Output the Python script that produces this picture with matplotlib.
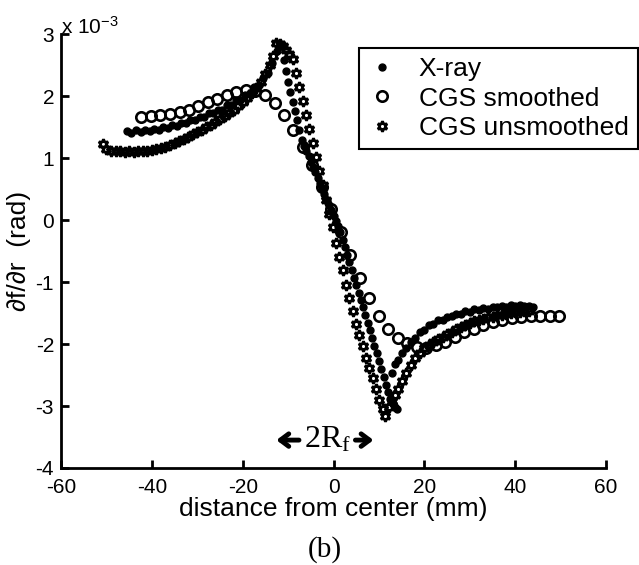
import numpy as np
import matplotlib.pyplot as plt

plt.rcParams['font.family'] = ['Liberation Sans', 'DejaVu Sans']
plt.rcParams['mathtext.default'] = 'regular'
plt.rcParams['axes.unicode_minus'] = False

# values in units of 1e-3 rad, distance in mm
xray_x = [-45.5, -44.5, -43.5, -42.5, -41.5, -40.5, -39.5, -38.5, -37.5, -36.5,
          -35.5, -34.5, -33.5, -32.5, -31.5, -30.5, -29.5, -28.5, -27.5, -26.5,
          -25.5, -24.5, -23.5, -22.5, -21.5, -20.5, -19.5, -18.5, -17.5, -16.5,
          -15.5, -14.5, -13.5, -12.5,
          -11.5, -11.0, -10.5, -10.0, -9.5, -9.0, -8.5, -8.0, -7.5, -7.0,
          -6.5, -6.0, -5.5, -5.0, -4.5, -4.0, -3.5, -3.0, -2.5, -2.0,
          -1.5, -1.0, -0.5, 0.0, 0.5, 1.0, 1.5, 2.0, 2.5, 3.0,
          3.5, 4.0, 4.5, 5.0, 5.5, 6.0, 6.5, 7.0, 7.5, 8.0,
          8.5, 9.0, 9.5, 10.0, 10.5, 11.0, 11.5, 12.0, 12.5, 13.0, 13.5, 14.0,
          12.8, 13.5, 14.2, 15.0, 16.0, 17.0, 18.0, 19.0, 20.0, 21.0,
          22.0, 23.0, 24.0, 25.0, 26.0, 27.0, 28.0, 29.0, 30.0, 31.0,
          32.0, 33.0, 34.0, 35.0, 36.0, 37.0, 38.0, 39.0, 40.0, 41.0,
          42.0, 43.0, 43.8]
xray_y = [1.44, 1.41, 1.45, 1.42, 1.46, 1.43, 1.47, 1.45, 1.50, 1.48,
          1.53, 1.52, 1.57, 1.57, 1.62, 1.61, 1.67, 1.66, 1.72, 1.72,
          1.78, 1.78, 1.85, 1.85, 1.93, 1.94, 2.02, 2.04, 2.14, 2.18,
          2.29, 2.38, 2.53, 2.72,
          2.80, 2.58, 2.40, 2.23, 2.07, 1.91, 1.76, 1.61, 1.46, 1.29,
          1.20, 1.12, 1.03, 0.94, 0.85, 0.77, 0.68, 0.59, 0.51, 0.42,
          0.33, 0.25, 0.16, 0.07, -0.02, -0.10, -0.20, -0.32, -0.44, -0.56,
          -0.68, -0.80, -0.93, -1.05, -1.17, -1.29, -1.41, -1.54, -1.66, -1.78,
          -1.91, -2.03, -2.15, -2.27, -2.40, -2.53, -2.66, -2.78, -2.88, -2.96, -3.02, -3.05,
          -2.47, -2.33, -2.25, -2.14, -2.06, -1.96, -1.90, -1.81, -1.77, -1.70,
          -1.68, -1.62, -1.61, -1.56, -1.55, -1.51, -1.51, -1.47, -1.48, -1.44,
          -1.45, -1.42, -1.43, -1.40, -1.41, -1.38, -1.40, -1.37, -1.39, -1.37,
          -1.39, -1.38, -1.40]

cgs_s_x = [-42.3, -40.2, -38.1, -36.0, -33.9, -31.9, -29.8, -27.7, -25.6, -23.5,
           -21.4, -19.3, -17.2, -15.1, -13.0, -10.9, -8.9, -6.8, -4.7, -2.6,
           -0.5, 1.6, 3.7, 5.8, 7.9, 10.0, 12.0, 14.1, 16.2, 18.3,
           20.4, 22.5, 24.6, 26.7, 28.8, 30.9, 33.0, 35.0, 37.1, 39.2,
           41.3, 43.4, 45.5, 47.6, 49.7]
cgs_s_y = [1.67, 1.68, 1.69, 1.71, 1.74, 1.78, 1.84, 1.90, 1.96, 2.02,
           2.07, 2.10, 2.08, 2.01, 1.88, 1.70, 1.46, 1.18, 0.88, 0.53,
           0.18, -0.19, -0.56, -0.93, -1.26, -1.55, -1.75, -1.90, -1.99, -2.05,
           -2.06, -2.02, -1.96, -1.88, -1.81, -1.75, -1.69, -1.64, -1.61, -1.58,
           -1.56, -1.55, -1.55, -1.55, -1.55]

cgs_u_x = [-50.8, -50.0, -49.0, -48.0, -47.0, -46.0, -45.0, -44.0, -43.0, -42.0,
           -41.0, -40.0, -39.0, -38.0, -37.0, -36.0, -35.0, -34.0, -33.0, -32.0,
           -31.0, -30.0, -29.0, -28.0, -27.0, -26.0, -25.0, -24.0, -23.0, -22.0,
           -21.0, -20.0, -19.0, -18.0, -17.0, -16.0, -15.0, -14.0, -13.3, -12.6,
           -11.9, -11.2, -10.4, -9.7,
           -9.0, -8.3, -7.5, -6.8, -6.0, -5.3, -4.6, -3.8, -3.1, -2.4,
           -1.6, -0.9, -0.2, 0.6, 1.3, 2.0, 2.8, 3.5, 4.2, 5.0,
           5.7, 6.4, 7.2, 7.9, 8.6, 9.4, 10.1, 10.8, 11.4,
           12.1, 12.8, 13.5, 14.2, 15.0, 16.0, 17.0, 18.0, 19.0, 20.0,
           21.0, 22.0, 23.0, 24.0, 25.0, 26.0, 27.0, 28.0, 29.0, 30.0,
           31.0, 32.0, 33.0, 34.0, 35.0, 36.0, 37.0, 38.0, 39.0, 40.0,
           41.0, 42.0, 43.0]
cgs_u_y = [1.22, 1.14, 1.12, 1.11, 1.11, 1.10, 1.11, 1.10, 1.11, 1.12,
           1.12, 1.13, 1.14, 1.16, 1.18, 1.21, 1.24, 1.27, 1.30, 1.34,
           1.38, 1.42, 1.46, 1.50, 1.54, 1.58, 1.63, 1.68, 1.73, 1.78,
           1.84, 1.90, 1.97, 2.05, 2.13, 2.23, 2.35, 2.50, 2.65, 2.85,
           2.84, 2.80, 2.74, 2.68,
           2.60, 2.38, 2.14, 1.92, 1.69, 1.47, 1.25, 1.01, 0.79, 0.57,
           0.32, 0.10, -0.12, -0.37, -0.59, -0.80, -1.04, -1.25, -1.46, -1.68,
           -1.86, -2.03, -2.22, -2.38, -2.55, -2.73, -2.90, -3.05, -3.16,
           -3.02, -2.92, -2.82, -2.72, -2.60, -2.46, -2.34, -2.23, -2.14, -2.07,
           -2.01, -1.96, -1.92, -1.88, -1.84, -1.80, -1.76, -1.72, -1.69, -1.66,
           -1.63, -1.61, -1.59, -1.57, -1.56, -1.54, -1.53, -1.51, -1.50, -1.49,
           -1.48, -1.47, -1.47]

fig = plt.figure(figsize=(6.39, 5.65), dpi=100)
ax = fig.add_axes([0.0955, 0.1717, 0.853, 0.768])

ax.plot(xray_x, xray_y, '.', color='k', ms=10, label='X-ray')
ax.plot(cgs_s_x, cgs_s_y, 'o', ls='none', mfc='none', mec='k', mew=1.9, ms=7.5,
        label='CGS smoothed')
ax.plot(cgs_u_x, cgs_u_y, marker=(6, 1, 0), ls='none', mfc='none', mec='k',
        mew=2.0, ms=7.5, label='CGS unsmoothed')

ax.set_xlim(-60, 60)
ax.set_ylim(-4, 3)
ax.set_xticks(np.arange(-60, 61, 20))
ax.set_yticks(np.arange(-4, 4))
ax.tick_params(direction='in', length=6, width=2, labelsize=15, pad=5)
ax.tick_params(axis='x', pad=7)
for s in ['top', 'right']:
    ax.spines[s].set_visible(False)
for s in ['left', 'bottom']:
    ax.spines[s].set_linewidth(2)

ax.set_xlabel('distance from center (mm)', fontsize=19, labelpad=0)
ax.set_ylabel('\u2202f/\u2202r  (rad)', fontsize=19)
ax.yaxis.set_label_coords(-0.055, 0.5)
ax.text(0.0, 1.0, 'x 10$^{-3}$', transform=ax.transAxes, ha='left',
        va='baseline', fontsize=15)

# 2Rf marker
ax.text(-1.4, -3.55, '2R$_{f}$', family='Liberation Serif', fontsize=23,
        ha='center', va='center')
arrow = dict(arrowstyle='->,head_length=0.6,head_width=0.45', lw=3.5, color='k')
ax.annotate('', xy=(-13.2, -3.55), xytext=(-7.0, -3.55), arrowprops=arrow)
ax.annotate('', xy=(9.4, -3.55), xytext=(4.2, -3.55), arrowprops=arrow)

leg = ax.legend(loc='upper right', bbox_to_anchor=(0.998, 0.915),
                bbox_transform=fig.transFigure, fontsize=19, fancybox=False,
                edgecolor='k', framealpha=1, handlelength=1.0,
                handletextpad=0.9, borderpad=0.35, labelspacing=0.2,
                borderaxespad=0)
leg.get_frame().set_linewidth(1.5)

fig.text(0.509, 0.028, '(b)', family='Liberation Serif', fontsize=21,
         ha='center', va='center')

fig.savefig('out.png', dpi=100)
